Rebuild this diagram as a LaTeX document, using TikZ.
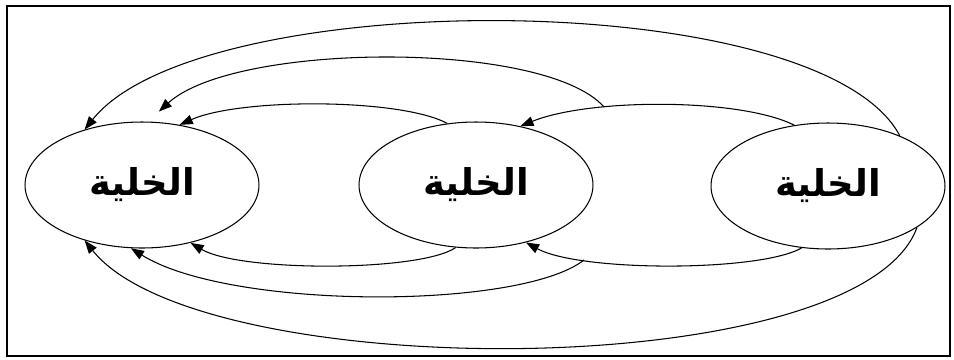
\documentclass[tikz,border=0pt]{standalone}
\usepackage{fontspec}
\newfontfamily\arabicfont[Script=Arabic]{DejaVu Sans}
\TeXXeTstate=1
\usetikzlibrary{shapes.geometric,arrows.meta}

\begin{document}
\begin{tikzpicture}[x=0.02cm,y=-0.02cm,>={Triangle[length=7.5pt,width=5.5pt]},
  cell/.style={draw,ellipse,line width=0.6pt,minimum width=4.68cm,minimum height=2.52cm,
    font=\arabicfont\bfseries\fontsize{21}{25}\selectfont},
  link/.style={->,line width=0.6pt}]
  \useasboundingbox (0,0) rectangle (954,359);
  \draw[line width=0.9pt] (7,6) rectangle (950,356);
  \node[cell] (a) at (142,185) {\beginR الخلية\endR};
  \node[cell] (b) at (476,185) {\beginR الخلية\endR};
  \node[cell] (c) at (828,186) {\beginR الخلية\endR};
  \coordinate (u) at (604,107);
  \coordinate (v) at (584,260);
  \draw[link] (c.119) .. controls (740,98) and (590,98) .. (b.53);
  \draw[link] (b.115) .. controls (400,98) and (240,98) .. (a.58);
  \draw[link] (u) .. controls (545,40) and (235,42) .. ([yshift=6pt]a.75);
  \draw[link] (c.35) .. controls (820,-15) and (200,-15) .. (a.136);
  \draw[link] (b.-108) .. controls (420,272) and (240,272) .. (a.-50);
  \draw[link] (c.-113) .. controls (760,272) and (580,272) .. (b.-49);
  \draw[link] (v) .. controls (520,310) and (230,310) .. (a.-100);
  \draw[link] (c.-25) .. controls (860,385) and (200,385) .. (a.-136);
\end{tikzpicture}
\end{document}
